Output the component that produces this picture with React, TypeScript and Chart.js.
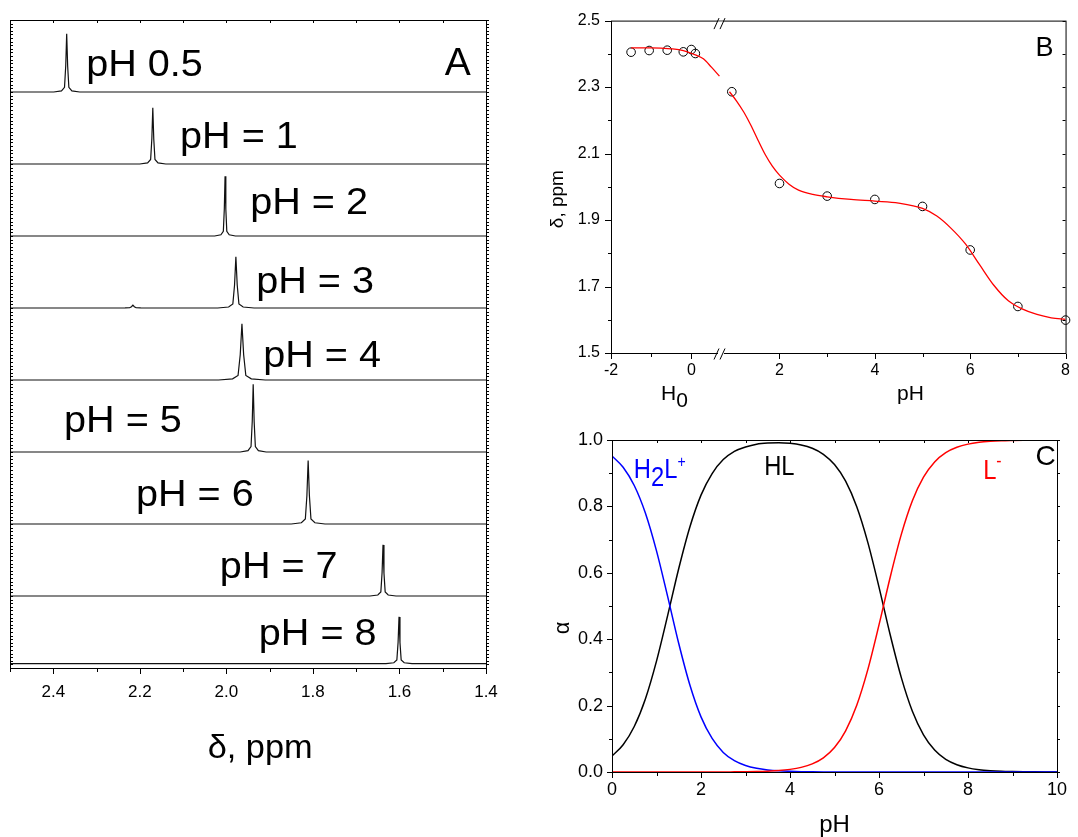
import React, { useEffect, useRef } from "react";
import { Chart, registerables } from "chart.js";
Chart.register(...registerables);

const FONT = '"Liberation Sans", Arial, sans-serif';
Chart.defaults.font.family = FONT;
Chart.defaults.color = "#000";

// ---------------- Panel A: stacked 1H NMR spectra ----------------
const spectraLabels = ["pH 0.5", "pH = 1", "pH = 2", "pH = 3", "pH = 4", "pH = 5", "pH = 6", "pH = 7", "pH = 8"];
const peakShift = [2.369, 2.170, 2.003, 1.978, 1.964, 1.938, 1.811, 1.638, 1.601];
const peakHeight = [0.81, 0.78, 0.83, 0.71, 0.78, 0.94, 0.88, 0.71, 0.65];
const peakWidth = [1, 1, 0.8, 1.4, 1.8, 1, 1.3, 1, 1];
const spectrumOffset = [8, 7, 6, 5, 4, 3, 2, 1, 0.06];
const minorPeakSpectrum = [3];
const minorPeakShift = [2.216];
const minorPeakHeight = [0.04];
const peakProfileOffset = [-0.03, -0.012, -0.005, -0.0022, 0, 0.0022, 0.005, 0.012, 0.03];
const peakProfileLevel = [0, 0.02, 0.08, 0.45, 1, 0.45, 0.08, 0.02, 0];
const axisAMajor = [2.4, 2.2, 2.0, 1.8, 1.6, 1.4];
const axisAMinor = [2.5, 2.3, 2.1, 1.9, 1.7, 1.5];
const labelAShift = [2.324, 2.107, 1.945, 1.931, 1.915, 2.375, 2.209, 2.015, 1.925];
const labelARise = [0.22, 0.22, 0.31, 0.21, 0.18, 0.28, 0.25, 0.25, 0.26];

// ---------------- Panel B: chemical shift vs H0 / pH ----------------
const h0Values = [-1.5, -1.05, -0.6, -0.2, 0, 0.1];
const h0Shift = [2.405, 2.41, 2.411, 2.406, 2.413, 2.401];
const phValues = [1, 2, 3, 4, 5, 6, 7, 8];
const phShift = [2.286, 2.010, 1.972, 1.962, 1.941, 1.810, 1.640, 1.599];
const h0FitX = [-1.5, -1.0, -0.5, -0.2, 0.1, 0.3, 0.5, 0.7];
const h0FitY = [2.418, 2.418, 2.415, 2.41, 2.397, 2.385, 2.36, 2.333];
const phFitX = [0.95, 1.1, 1.25, 1.4, 1.55, 1.7, 1.85, 2.0, 2.2, 2.4, 2.7, 3.0, 3.5, 4.0, 4.5, 5.0, 5.3, 5.6, 5.9, 6.2, 6.5, 6.8, 7.1, 7.4, 7.7, 8.0];
const phFitY = [2.286, 2.258, 2.225, 2.185, 2.14, 2.097, 2.062, 2.035, 2.008, 1.99, 1.977, 1.970, 1.962, 1.957, 1.951, 1.935, 1.912, 1.875, 1.828, 1.765, 1.703, 1.657, 1.632, 1.616, 1.606, 1.601];
const bYMajor = [1.5, 1.7, 1.9, 2.1, 2.3, 2.5];
const bYMinor = [1.6, 1.8, 2.0, 2.2, 2.4];
const bH0Major = [-2, 0];
const bH0Minor = [-1];
const bPhMajor = [2, 4, 6, 8];
const bPhMinor = [3, 5, 7];

// ---------------- Panel C: species distribution ----------------
const cPH = [0, 0.25, 0.5, 0.75, 1, 1.25, 1.5, 1.75, 2, 2.25, 2.5, 2.75, 3, 3.25, 3.5, 3.75, 4, 4.25, 4.5, 4.75, 5,
  5.25, 5.5, 5.75, 6, 6.25, 6.5, 6.75, 7, 7.25, 7.5, 7.75, 8, 8.25, 8.5, 8.75, 9, 9.25, 9.5, 9.75, 10];
const alphaH2L = [0.952, 0.918, 0.863, 0.780, 0.666, 0.529, 0.387, 0.262, 0.166, 0.101, 0.059, 0.034, 0.0195, 0.0111, 0.0063, 0.0035, 0.002, 0.0011, 0.0006, 0.0003, 0.0002,
  0, 0, 0, 0, 0, 0, 0, 0, 0, 0, 0, 0, 0, 0, 0, 0, 0, 0, 0, 0];
const alphaHL = [0.048, 0.082, 0.137, 0.220, 0.334, 0.471, 0.613, 0.738, 0.834, 0.899, 0.941, 0.966, 0.979, 0.9875, 0.991, 0.992, 0.990, 0.985, 0.975, 0.957, 0.926,
  0.876, 0.799, 0.691, 0.557, 0.414, 0.285, 0.183, 0.112, 0.066, 0.038, 0.022, 0.0124, 0.007, 0.004, 0.0022, 0.0013, 0.0007, 0.0004, 0.0002, 0.0001];
const alphaL = [0, 0, 0, 0, 0, 0, 0, 0, 0, 0, 0, 0.0004, 0.0008, 0.0014, 0.0025, 0.0044, 0.0079, 0.0139, 0.0245, 0.0428, 0.0736,
  0.124, 0.201, 0.309, 0.443, 0.586, 0.715, 0.817, 0.888, 0.934, 0.962, 0.978, 0.9876, 0.993, 0.996, 0.9978, 0.9987, 0.9993, 0.9996, 0.9998, 0.9999];
const cYMajor = [0, 0.2, 0.4, 0.6, 0.8, 1.0];
const cYMinor = [0.1, 0.3, 0.5, 0.7, 0.9];
const cXMajor = [0, 2, 4, 6, 8, 10];
const cXMinor = [1, 3, 5, 7, 9];

// ---------------- helpers ----------------
function drawText(ctx: any, s: string, x: number, y: number, size: number, o: any = {}) {
  ctx.save();
  ctx.translate(x, y);
  if (o.rot) ctx.rotate(o.rot);
  if (o.sx) ctx.scale(o.sx, 1);
  ctx.font = `${size}px ${FONT}`;
  ctx.fillStyle = o.color || "#000";
  ctx.textAlign = o.align || "left";
  ctx.textBaseline = o.baseline || "alphabetic";
  ctx.fillText(s, 0, 0);
  ctx.restore();
}
function drawRich(ctx: any, parts: any[], x: number, y: number, color: string, sx: number) {
  let cx = x;
  for (const p of parts) {
    ctx.save();
    ctx.font = `${p.size}px ${FONT}`;
    const w = ctx.measureText(p.t).width;
    ctx.restore();
    drawText(ctx, p.t, cx, y + p.dy, p.size, { color, sx });
    cx += w * sx;
  }
}
function ticksH(ctx: any, scale: any, vals: number[], y: number, len: number) {
  ctx.beginPath();
  for (const v of vals) {
    const px = Math.round(scale.getPixelForValue(v)) + 0.5;
    ctx.moveTo(px, y);
    ctx.lineTo(px, y + len);
  }
  ctx.stroke();
}
function ticksV(ctx: any, scale: any, vals: number[], x: number, len: number) {
  ctx.beginPath();
  for (const v of vals) {
    const py = Math.round(scale.getPixelForValue(v)) + 0.5;
    ctx.moveTo(x, py);
    ctx.lineTo(x + len, py);
  }
  ctx.stroke();
}
function frame(ctx: any, ca: any) {
  ctx.strokeStyle = "#000";
  ctx.lineWidth = 1;
  ctx.strokeRect(ca.left + 0.5, ca.top + 0.5, ca.right - ca.left, ca.bottom - ca.top);
}
function breakMark(ctx: any, px: number, y: number) {
  ctx.save();
  ctx.fillStyle = "#fff";
  ctx.fillRect(px - 5, y - 1.5, 6, 3);
  ctx.strokeStyle = "#000";
  ctx.lineWidth = 1;
  ctx.beginPath();
  ctx.moveTo(px - 9, y + 6);
  ctx.lineTo(px - 4, y - 5);
  ctx.moveTo(px - 3, y + 6);
  ctx.lineTo(px + 2, y - 5);
  ctx.stroke();
  ctx.restore();
}
const noGrid = { display: false, drawTicks: false, drawOnChartArea: false };

// ---------------- Panel A config ----------------
function spectrumPoints(i: number) {
  const peaks: { c: number; h: number; w: number }[] = [{ c: peakShift[i], h: peakHeight[i], w: peakWidth[i] }];
  minorPeakSpectrum.forEach((s, k) => {
    if (s === i) peaks.push({ c: minorPeakShift[k], h: minorPeakHeight[k], w: 1.5 });
  });
  const base = spectrumOffset[i];
  const pts: { x: number; y: number }[] = [{ x: 2.5, y: base }, { x: 1.4, y: base }];
  peaks.forEach((p) => {
    peakProfileOffset.forEach((o, k) => pts.push({ x: p.c + o * p.w, y: base + p.h * peakProfileLevel[k] }));
  });
  pts.sort((a, b) => b.x - a.x);
  return pts;
}

const panelAPlugin = {
  id: "panelA",
  afterDraw(chart: any) {
    const { ctx, chartArea: ca, scales } = chart;
    const x = scales.x, y = scales.y;
    ctx.save();
    frame(ctx, ca);
    ticksH(ctx, x, axisAMajor, ca.bottom + 1, 5);
    ticksH(ctx, x, axisAMinor, ca.bottom + 1, 3);
    ticksH(ctx, x, [...axisAMajor, ...axisAMinor], ca.top + 1, 2);
    const fine: number[] = [];
    for (let v = 0.05; v < 9; v += 0.05) fine.push(v);
    ticksV(ctx, y, fine, ca.left + 1, 2);
    ticksV(ctx, y, fine, ca.right + 1, 2);
    spectraLabels.forEach((s, i) => {
      drawText(ctx, s, x.getPixelForValue(labelAShift[i]), y.getPixelForValue(spectrumOffset[i] + labelARise[i]), 36, { sx: 1.1 });
    });
    drawText(ctx, "A", x.getPixelForValue(1.435), y.getPixelForValue(8.24), 39, { align: "right" });
    drawText(ctx, "\u03b4, ppm", x.getPixelForValue(1.922), ca.bottom + 90, 33, { align: "center", sx: 1.04 });
    ctx.restore();
  },
};

function configA(): any {
  return {
    type: "line",
    data: {
      datasets: spectraLabels.map((lab, i) => ({
        label: lab,
        data: spectrumPoints(i),
        borderColor: "#111",
        borderWidth: 1.2,
        pointRadius: 0,
        tension: 0,
      })),
    },
    options: {
      animation: false,
      responsive: false,
      events: [],
      layout: { padding: { left: 10, top: 20, right: 54, bottom: 0 }, autoPadding: false },
      plugins: { legend: { display: false }, tooltip: { enabled: false } },
      scales: {
        x: {
          type: "linear",
          min: 1.4,
          max: 2.5,
          reverse: true,
          afterBuildTicks: (s: any) => { s.ticks = axisAMajor.map((v) => ({ value: v })); },
          afterFit: (s: any) => { s.height = 169; },
          ticks: { autoSkip: false, maxRotation: 0, padding: 14, font: { size: 17 }, color: "#000", callback: (v: any) => Number(v).toFixed(1) },
          grid: noGrid,
          border: { display: false },
        },
        y: { type: "linear", min: 0, max: 9, display: false },
      },
    },
    plugins: [panelAPlugin],
  };
}

// ---------------- Panel B config ----------------
const panelBPlugin = {
  id: "panelB",
  afterDraw(chart: any) {
    const { ctx, chartArea: ca, scales } = chart;
    const x = scales.x, xH = scales.xH, y = scales.y;
    ctx.save();
    frame(ctx, ca);
    ticksV(ctx, y, bYMajor, ca.left, -6);
    ticksV(ctx, y, bYMinor, ca.left, -3);
    ticksV(ctx, y, [...bYMajor, ...bYMinor], ca.right, -3);
    ticksH(ctx, x, bPhMajor, ca.bottom + 1, 5);
    ticksH(ctx, x, bPhMinor, ca.bottom + 1, 3);
    ticksH(ctx, xH, bH0Major, ca.bottom + 1, 5);
    ticksH(ctx, xH, bH0Minor, ca.bottom + 1, 3);
    bH0Major.forEach((v) => {
      drawText(ctx, String(v), xH.getPixelForValue(v), ca.bottom + 8 + 9.6, 16, { align: "center", baseline: "middle" });
    });
    const bx = Math.round(xH.getPixelForValue(0.78));
    breakMark(ctx, bx, ca.bottom + 0.5);
    breakMark(ctx, bx, ca.top + 2.5);
    drawText(ctx, "B", x.getPixelForValue(7.75), y.getPixelForValue(2.395), 27, { align: "right" });
    drawRich(ctx, [{ t: "H", dy: 0, size: 21 }, { t: "0", dy: 7, size: 21 }], xH.getPixelForValue(-0.756), ca.bottom + 47, "#000", 1);
    drawText(ctx, "pH", x.getPixelForValue(4.466), ca.bottom + 47, 21);
    drawText(ctx, "\u03b4, ppm", ca.left - 48, y.getPixelForValue(1.963), 19, { align: "center", rot: -Math.PI / 2 });
    ctx.restore();
  },
};

function configB(): any {
  const pointStyle = {
    showLine: false,
    pointRadius: 4.3,
    pointBorderWidth: 1,
    pointBorderColor: "#000",
    pointBackgroundColor: "rgba(0,0,0,0)",
    clip: false,
  };
  const fitStyle = { borderColor: "#ff0000", borderWidth: 1.3, pointRadius: 0, cubicInterpolationMode: "monotone" };
  return {
    type: "line",
    data: {
      datasets: [
        { label: "fit H0", xAxisID: "xH", yAxisID: "y", data: h0FitX.map((v, i) => ({ x: v, y: h0FitY[i] })), ...fitStyle },
        { label: "fit pH", xAxisID: "x", yAxisID: "y", data: phFitX.map((v, i) => ({ x: v, y: phFitY[i] })), ...fitStyle },
        { label: "H0", xAxisID: "xH", yAxisID: "y", data: h0Values.map((v, i) => ({ x: v, y: h0Shift[i] })), ...pointStyle },
        { label: "pH", xAxisID: "x", yAxisID: "y", data: phValues.map((v, i) => ({ x: v, y: phShift[i] })), ...pointStyle },
      ],
    },
    options: {
      animation: false,
      responsive: false,
      events: [],
      layout: { padding: { left: 0, top: 9, right: 3, bottom: 0 }, autoPadding: false },
      plugins: { legend: { display: false }, tooltip: { enabled: false } },
      scales: {
        x: {
          type: "linear",
          position: "bottom",
          min: -1.534,
          max: 8,
          afterBuildTicks: (s: any) => { s.ticks = bPhMajor.map((v) => ({ value: v })); },
          afterFit: (s: any) => { s.height = 57; },
          ticks: { autoSkip: false, maxRotation: 0, padding: 8, font: { size: 16 }, color: "#000", callback: (v: any) => String(v) },
          grid: noGrid,
          border: { display: false },
        },
        xH: { type: "linear", position: "bottom", min: -2, max: 9.317, display: false },
        y: {
          type: "linear",
          min: 1.5,
          max: 2.5,
          afterBuildTicks: (s: any) => { s.ticks = bYMajor.map((v) => ({ value: v })); },
          afterFit: (s: any) => { s.width = 71; },
          ticks: { autoSkip: false, padding: 11, font: { size: 16 }, color: "#000", callback: (v: any) => Number(v).toFixed(1) },
          grid: noGrid,
          border: { display: false },
        },
      },
    },
    plugins: [panelBPlugin],
  };
}

// ---------------- Panel C config ----------------
const panelCPlugin = {
  id: "panelC",
  afterDraw(chart: any) {
    const { ctx, chartArea: ca, scales } = chart;
    const x = scales.x, y = scales.y;
    ctx.save();
    frame(ctx, ca);
    ticksV(ctx, y, cYMajor, ca.left, -5);
    ticksV(ctx, y, cYMinor, ca.left, -3);
    ticksV(ctx, y, [...cYMajor, ...cYMinor], ca.right + 1, 2);
    ticksH(ctx, x, cXMajor, ca.bottom + 1, 5);
    ticksH(ctx, x, cXMinor, ca.bottom + 1, 3);
    ticksH(ctx, x, [...cXMajor, ...cXMinor], ca.top + 1, 2);
    const sx = 0.88;
    drawRich(ctx, [
      { t: "H", dy: 0, size: 27 },
      { t: "2", dy: 8, size: 27 },
      { t: "L", dy: 0, size: 27 },
      { t: "+", dy: -11, size: 16 },
    ], x.getPixelForValue(0.49), y.getPixelForValue(0.886), "#0000ff", sx);
    drawText(ctx, "HL", x.getPixelForValue(3.42), y.getPixelForValue(0.895), 27, { sx });
    drawRich(ctx, [
      { t: "L", dy: 0, size: 27 },
      { t: "-", dy: -12, size: 18 },
    ], x.getPixelForValue(8.34), y.getPixelForValue(0.883), "#ff0000", sx);
    drawText(ctx, "C", x.getPixelForValue(9.97), y.getPixelForValue(0.925), 28, { align: "right" });
    drawText(ctx, "\u03b1", ca.left - 43, y.getPixelForValue(0.434), 22, { align: "center", rot: -Math.PI / 2 });
    drawText(ctx, "pH", x.getPixelForValue(5.0), ca.bottom + 60, 24, { align: "center" });
    ctx.restore();
  },
};

function configC(): any {
  const line = (label: string, vals: number[], color: string) => ({
    label,
    data: cPH.map((p, i) => ({ x: p, y: vals[i] })),
    borderColor: color,
    borderWidth: 1.5,
    pointRadius: 0,
    cubicInterpolationMode: "monotone",
  });
  return {
    type: "line",
    data: {
      datasets: [
        line("L-", alphaL, "#ff0000"),
        line("H2L+", alphaH2L, "#0000ff"),
        line("HL", alphaHL, "#000000"),
      ],
    },
    options: {
      animation: false,
      responsive: false,
      events: [],
      layout: { padding: { left: 0, top: 30, right: 21, bottom: 0 }, autoPadding: false },
      plugins: { legend: { display: false }, tooltip: { enabled: false } },
      scales: {
        x: {
          type: "linear",
          min: 0,
          max: 10,
          afterBuildTicks: (s: any) => { s.ticks = cXMajor.map((v) => ({ value: v })); },
          afterFit: (s: any) => { s.height = 65; },
          ticks: { autoSkip: false, maxRotation: 0, padding: 7, font: { size: 18 }, color: "#000", callback: (v: any) => String(v) },
          grid: noGrid,
          border: { display: false },
        },
        y: {
          type: "linear",
          min: 0,
          max: 1,
          afterBuildTicks: (s: any) => { s.ticks = cYMajor.map((v) => ({ value: v })); },
          afterFit: (s: any) => { s.width = 72; },
          ticks: { autoSkip: false, padding: 9, font: { size: 18 }, color: "#000", callback: (v: any) => Number(v).toFixed(1) },
          grid: noGrid,
          border: { display: false },
        },
      },
    },
    plugins: [panelCPlugin],
  };
}

export default function App() {
  const aRef = useRef<HTMLCanvasElement>(null);
  const bRef = useRef<HTMLCanvasElement>(null);
  const cRef = useRef<HTMLCanvasElement>(null);
  useEffect(() => {
    const charts = [
      new Chart(aRef.current as HTMLCanvasElement, configA()),
      new Chart(bRef.current as HTMLCanvasElement, configB()),
      new Chart(cRef.current as HTMLCanvasElement, configC()),
    ];
    return () => charts.forEach((c) => c.destroy());
  }, []);
  return (
    <div style={{ position: "fixed", left: 0, top: 0, width: 1078, height: 837, background: "#fff", overflow: "hidden" }}>
      <canvas ref={aRef} width={540} height={837} style={{ position: "absolute", left: 0, top: 0 }} />
      <canvas ref={bRef} width={538} height={410} style={{ position: "absolute", left: 540, top: 0 }} />
      <canvas ref={cRef} width={538} height={427} style={{ position: "absolute", left: 540, top: 410 }} />
    </div>
  );
}
